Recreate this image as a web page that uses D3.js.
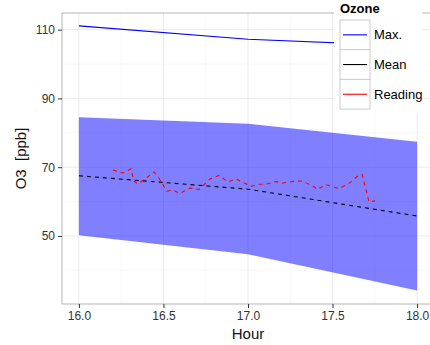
<!DOCTYPE html>
<html>
<head>
<meta charset="utf-8">
<script src="https://cdn.jsdelivr.net/npm/d3@7"></script>
<style>
  body { margin: 0; background: #fff; }
  text { font-family: "Liberation Sans", Arial, sans-serif; }
</style>
</head>
<body>
<div id="container"></div>
<script>
const width = 430;
const height = 345;

// band / summary series, one value per hour
const hours = [16, 17, 18];
const bandLower = [50.2, 44.7, 34.1];
const bandUpper = [84.5, 82.6, 77.4];
const maxValues = [111.1, 107.2, 105.2];
const meanValues = [67.5, 63.6, 55.8];

// individual readings [hour, ppb]
const readingHours = [16.201, 16.26, 16.308, 16.325, 16.349, 16.402, 16.444, 16.467, 16.521, 16.55,
    16.598, 16.657, 16.71, 16.775, 16.828, 16.882, 16.929, 17.018, 17.053, 17.112,
    17.16, 17.207, 17.278, 17.32, 17.391, 17.408, 17.462, 17.497, 17.538, 17.598,
    17.645, 17.675, 17.716, 17.751];
const readingValues = [69.2, 68.3, 69.5, 66.0, 65.1, 67.0, 68.6, 67.3, 63.0, 63.4,
    62.4, 63.9, 63.5, 66.6, 67.6, 65.7, 66.6, 64.4, 65.0, 65.1,
    65.8, 65.4, 65.9, 66.0, 64.3, 63.5, 64.9, 64.3, 63.8, 65.3,
    67.3, 67.9, 59.9, 60.2];

const xTicks = [16.0, 16.5, 17.0, 17.5, 18.0];
const xMinor = [16.25, 16.75, 17.25, 17.75];
const yTicks = [50, 70, 90, 110];
const yMinor = [40, 60, 80, 100];

const legendItems = [
    {label: "Max.", color: "#0000ff"},
    {label: "Mean", color: "#000000"},
    {label: "Reading", color: "#ff0000"}
];

const panel = {left: 62, top: 13, right: 434, bottom: 304};

const x = d3.scaleLinear().domain([15.9, 18.1]).range([panel.left, panel.right]);
const y = d3.scaleLinear().domain([30.2, 114.85]).range([panel.bottom, panel.top]);

const svg = d3.create("svg")
    .attr("width", width)
    .attr("height", height);

svg.append("defs").append("clipPath")
    .attr("id", "panel-clip")
    .append("rect")
    .attr("x", panel.left)
    .attr("y", panel.top)
    .attr("width", panel.right - panel.left)
    .attr("height", panel.bottom - panel.top);

// grid
const grid = svg.append("g");
grid.selectAll("line.xminor").data(xMinor).enter().append("line")
    .attr("x1", d => x(d)).attr("x2", d => x(d))
    .attr("y1", panel.top).attr("y2", panel.bottom)
    .attr("stroke", "#f4f4f4").attr("stroke-width", 0.6);
grid.selectAll("line.yminor").data(yMinor).enter().append("line")
    .attr("y1", d => y(d)).attr("y2", d => y(d))
    .attr("x1", panel.left).attr("x2", panel.right)
    .attr("stroke", "#f4f4f4").attr("stroke-width", 0.6);
grid.selectAll("line.xmajor").data(xTicks).enter().append("line")
    .attr("x1", d => x(d)).attr("x2", d => x(d))
    .attr("y1", panel.top).attr("y2", panel.bottom)
    .attr("stroke", "#ebebeb").attr("stroke-width", 1);
grid.selectAll("line.ymajor").data(yTicks).enter().append("line")
    .attr("y1", d => y(d)).attr("y2", d => y(d))
    .attr("x1", panel.left).attr("x2", panel.right)
    .attr("stroke", "#ebebeb").attr("stroke-width", 1);

const plot = svg.append("g").attr("clip-path", "url(#panel-clip)");

const band = d3.area()
    .x((d, i) => x(hours[i]))
    .y0((d, i) => y(bandLower[i]))
    .y1((d, i) => y(bandUpper[i]));

plot.append("path")
    .datum(hours)
    .attr("d", band)
    .attr("fill", "#0000ff")
    .attr("fill-opacity", 0.5);

const seriesLine = values => d3.line()
    .x((d, i) => x(hours[i]))
    .y((d, i) => y(values[i]))(values);

plot.append("path")
    .attr("d", seriesLine(maxValues))
    .attr("fill", "none")
    .attr("stroke", "#0000ff")
    .attr("stroke-width", 1.1);

plot.append("path")
    .attr("d", seriesLine(meanValues))
    .attr("fill", "none")
    .attr("stroke", "#000")
    .attr("stroke-width", 1.1)
    .attr("stroke-dasharray", "4,4");

const readingLine = d3.line()
    .x((d, i) => x(readingHours[i]))
    .y((d, i) => y(readingValues[i]));

plot.append("path")
    .attr("d", readingLine(readingValues))
    .attr("fill", "none")
    .attr("stroke", "#ff0000")
    .attr("stroke-width", 1.1)
    .attr("stroke-dasharray", "4,4");

// panel border
svg.append("rect")
    .attr("x", panel.left)
    .attr("y", panel.top)
    .attr("width", panel.right - panel.left)
    .attr("height", panel.bottom - panel.top)
    .attr("fill", "none")
    .attr("stroke", "#b5b5b5")
    .attr("stroke-width", 1);

// axes
const xAxis = svg.append("g")
    .attr("transform", `translate(0,${panel.bottom})`)
    .call(d3.axisBottom(x).tickValues(xTicks).tickFormat(d3.format(".1f")).tickSize(4).tickPadding(3));
const yAxis = svg.append("g")
    .attr("transform", `translate(${panel.left},0)`)
    .call(d3.axisLeft(y).tickValues(yTicks).tickSize(4).tickPadding(3));

[xAxis, yAxis].forEach(ax => {
    ax.select(".domain").remove();
    ax.selectAll(".tick line").attr("stroke", "#333");
    ax.selectAll(".tick text")
        .attr("fill", "#333")
        .attr("font-size", "12px")
        .attr("font-family", "Liberation Sans, Arial, sans-serif");
});

svg.append("text")
    .attr("x", (panel.left + panel.right) / 2)
    .attr("y", 339)
    .attr("text-anchor", "middle")
    .attr("font-size", "15px")
    .attr("fill", "#111")
    .text("Hour");

svg.append("text")
    .attr("transform", `translate(26,${(panel.top + panel.bottom) / 2}) rotate(-90)`)
    .attr("text-anchor", "middle")
    .attr("font-size", "15px")
    .attr("fill", "#111")
    .style("white-space", "pre")
    .text("O3  [ppb]");

// legend
const legend = svg.append("g");
legend.append("rect")
    .attr("x", 334).attr("y", 0)
    .attr("width", 88).attr("height", 113)
    .attr("fill", "#fff");
legend.append("text")
    .attr("x", 340).attr("y", 13)
    .attr("font-size", "13px")
    .attr("font-weight", "bold")
    .attr("fill", "#000")
    .text("Ozone");

const keyH = 29.7;
const keys = legend.selectAll("g.key").data(legendItems).enter().append("g")
    .attr("transform", (d, i) => `translate(340,${20 + i * keyH})`);
keys.append("rect")
    .attr("width", 30).attr("height", keyH)
    .attr("fill", "#fff")
    .attr("stroke", "#cccccc")
    .attr("stroke-width", 1);
keys.append("line")
    .attr("x1", 3).attr("x2", 27)
    .attr("y1", keyH / 2).attr("y2", keyH / 2)
    .attr("stroke", d => d.color)
    .attr("stroke-width", 1.1);
keys.append("text")
    .attr("x", 34).attr("y", keyH / 2)
    .attr("dominant-baseline", "central")
    .attr("font-size", "13px")
    .attr("fill", "#000")
    .text(d => d.label);

d3.select("#container").append(() => svg.node());
</script>
</body>
</html>
